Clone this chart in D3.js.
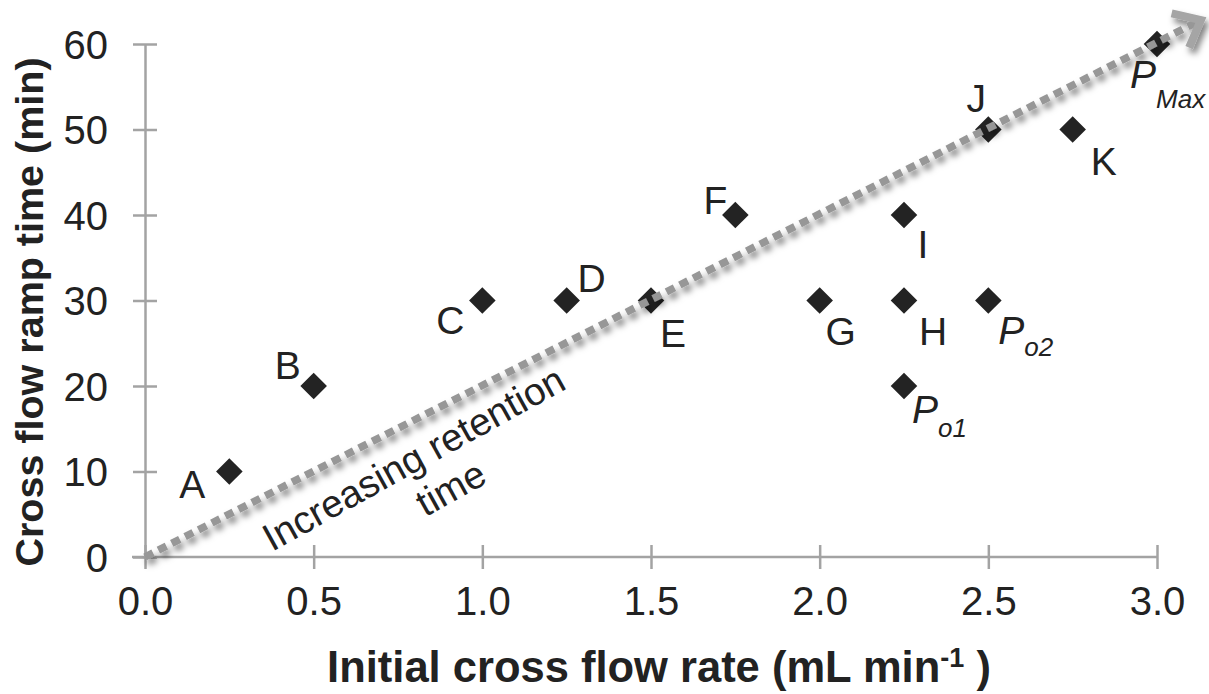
<!DOCTYPE html>
<html>
<head>
<meta charset="utf-8">
<script src="https://cdn.jsdelivr.net/npm/d3@7"></script>
<style>
  html, body { margin: 0; padding: 0; background: #fff; }
  svg { display: block; }
  text { font-family: "Liberation Sans", Arial, sans-serif; fill: #222; }
</style>
</head>
<body>
<svg id="chart" width="1209" height="694"></svg>
<script>
// Operating conditions: initial cross flow rate vs. cross flow ramp time
const names     = ["A", "B", "C", "D", "E", "F", "G", "H", "I", "J", "K", "Po1", "Po2", "PMax"];
const flowRates = [0.25, 0.5, 1.0, 1.25, 1.5, 1.75, 2.0, 2.25, 2.25, 2.5, 2.75, 2.25, 2.5, 3.0];
const rampTimes = [10, 20, 30, 30, 30, 40, 30, 30, 40, 50, 50, 20, 30, 60];

const xTicks = [0, 0.5, 1.0, 1.5, 2.0, 2.5, 3.0];
const yTicks = [0, 10, 20, 30, 40, 50, 60];

// Trend arrow, in data units
const arrowFrom = [0, 0];
const arrowTo   = [3.13, 62.8];

const svg = d3.select("#chart");
const x = d3.scaleLinear().domain([0, 3]).range([145, 1157]);
const y = d3.scaleLinear().domain([0, 60]).range([557, 44]);

const axisColor = "#a3a3a3";

// Axes with ticks crossing the axis line
const gx = svg.append("g").attr("transform", `translate(0,${y(0)})`)
  .call(d3.axisBottom(x).tickValues(xTicks).tickFormat(d3.format(".1f")).tickSizeOuter(0));
const gy = svg.append("g").attr("transform", `translate(${x(0)},0)`)
  .call(d3.axisLeft(y).tickValues(yTicks).tickFormat(d3.format("d")).tickSizeOuter(0));

[gx, gy].forEach(g => {
  g.select(".domain").attr("stroke", axisColor).attr("stroke-width", 2.5);
  g.selectAll(".tick line").attr("stroke", axisColor).attr("stroke-width", 2.5);
  g.selectAll(".tick text")
    .style("font-family", '"Liberation Sans", Arial, sans-serif')
    .style("font-size", "40px").attr("fill", "#222");
});
gx.select(".domain").attr("d", `M${x(0) - 13},0H${x(3)}`);
gx.selectAll(".tick line").attr("y1", -12).attr("y2", 12);
gx.selectAll(".tick text").attr("y", 50).attr("dy", "0.2em");
gy.selectAll(".tick line").attr("x1", -12).attr("x2", 12);
gy.selectAll(".tick text").attr("x", -37).attr("dy", "0.36em");

// Axis titles
svg.append("text")
  .attr("x", 659).attr("y", 682)
  .attr("text-anchor", "middle")
  .style("font-size", "43.5px").style("font-weight", "bold")
  .call(t => {
    t.append("tspan").text("Initial cross flow rate (mL min");
    t.append("tspan").attr("dy", -15).style("font-size", "27px").text("-1");
    t.append("tspan").attr("dy", 15).text(" )");
  });

svg.append("text")
  .attr("transform", `translate(43,312) rotate(-90)`)
  .attr("text-anchor", "middle")
  .style("font-size", "39.5px").style("font-weight", "bold")
  .text("Cross flow ramp time (min)");

// Data points as diamonds
const points = names.map((n, i) => ({ name: n, fx: flowRates[i], rt: rampTimes[i] }));
svg.append("g").selectAll("path").data(points).join("path")
  .attr("d", d3.symbol(d3.symbolDiamond2, 450))
  .attr("transform", d => `translate(${x(d.fx)},${y(d.rt)})`)
  .attr("fill", "#232323");

// Dashed trend arrow with soft shadow
const defs = svg.append("defs");
const f = defs.append("filter").attr("id", "shadow")
  .attr("x", "-10%").attr("y", "-10%").attr("width", "120%").attr("height", "120%");
f.append("feDropShadow").attr("dx", 3).attr("dy", 5).attr("stdDeviation", 3)
  .attr("flood-color", "#000").attr("flood-opacity", 0.5);

const ax0 = x(arrowFrom[0]), ay0 = y(arrowFrom[1]);
const ax1 = x(arrowTo[0]),   ay1 = y(arrowTo[1]);
const ang = Math.atan2(ay1 - ay0, ax1 - ax0);
const arrow = svg.append("g").attr("filter", "url(#shadow)");
arrow.append("line")
  .attr("x1", ax0).attr("y1", ay0).attr("x2", ax1 - 6 * Math.cos(ang)).attr("y2", ay1 - 6 * Math.sin(ang))
  .attr("stroke", "#979797").attr("stroke-width", 7.5).attr("stroke-dasharray", "9,6");
const armLen = 30, spread = 40 * Math.PI / 180;
const back = ang + Math.PI;
const pA = [ax1 + armLen * Math.cos(back - spread), ay1 + armLen * Math.sin(back - spread)];
const pB = [ax1 + armLen * Math.cos(back + spread), ay1 + armLen * Math.sin(back + spread)];
arrow.append("path")
  .attr("d", `M${pA[0]},${pA[1]}L${ax1},${ay1}L${pB[0]},${pB[1]}`)
  .attr("fill", "none").attr("stroke", "#a5a5a5").attr("stroke-width", 8)
  .attr("stroke-linejoin", "miter");

// Point labels (offsets from each marker)
const labelOffsets = {
  A: [-37, 26], B: [-26, -7], C: [-32, 33], D: [25, -9], E: [22, 46], F: [-20, -1],
  G: [21, 44], H: [29, 44], I: [19, 43], J: [-12, -18], K: [31, 45]
};
svg.append("g").selectAll("text").data(points.filter(d => labelOffsets[d.name])).join("text")
  .attr("x", d => x(d.fx) + labelOffsets[d.name][0])
  .attr("y", d => y(d.rt) + labelOffsets[d.name][1])
  .attr("text-anchor", "middle")
  .style("font-size", "39px")
  .text(d => d.name);

// Subscripted P labels
const pLabels = { Po1: ["o1", 8, 37, 14], Po2: ["o2", 10, 43, 12], PMax: ["Max", -27, 44, 20] };
points.filter(d => pLabels[d.name]).forEach(d => {
  const [sub, dx, dy, subDy] = pLabels[d.name];
  const t = svg.append("text")
    .attr("x", x(d.fx) + dx).attr("y", y(d.rt) + dy)
    .style("font-size", "39px").style("font-style", "italic");
  t.append("tspan").text("P");
  t.append("tspan").attr("dy", subDy).style("font-size", "26px").text(sub);
});

// Trend annotation
const annot = svg.append("g")
  .attr("transform", `translate(420,470) rotate(-29)`);
annot.append("text").attr("text-anchor", "middle")
  .style("font-size", "38.5px").text("Increasing retention");
annot.append("text").attr("x", 18).attr("y", 44).attr("text-anchor", "middle")
  .style("font-size", "38.5px").text("time");
</script>
</body>
</html>
